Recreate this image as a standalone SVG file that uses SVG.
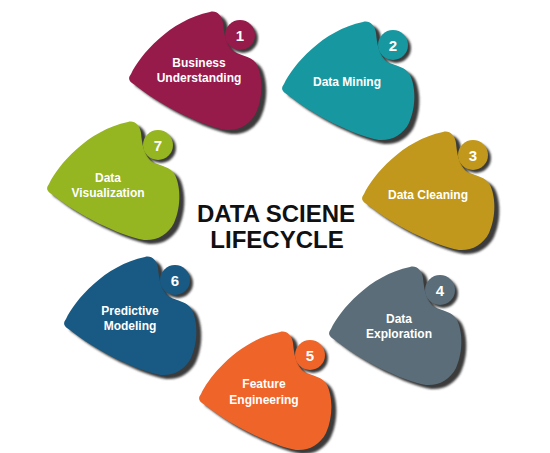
<svg xmlns="http://www.w3.org/2000/svg" xmlns:xlink="http://www.w3.org/1999/xlink" width="550" height="453" viewBox="0 0 550 453">
<defs>
<path id="blob" d="M -109 39 C -100 20, -70 -15, -30 -23 C -24 -25, -18 -20, -17 -12 C -16 0, -14 8, -8 15 C -2 21, 12 20, 17 30 C 22 40, 24 60, 16 78 C 10 90, -2 96, -14 95 C -40 90, -80 70, -105 50 C -112 46, -112 43, -109 39 Z"/>
<filter id="sh" x="-20%" y="-20%" width="140%" height="140%"><feGaussianBlur stdDeviation="1"/></filter>
</defs>
<style>
.shadow{fill:#3a3a3a;filter:url(#sh)}
.lbl{font-family:"Liberation Sans",Arial,sans-serif;font-weight:bold;font-size:12px;fill:#ffffff;text-anchor:middle}
.num{font-family:"Liberation Sans",Arial,sans-serif;font-weight:bold;font-size:15px;fill:#ffffff;text-anchor:middle}
.title{font-family:"Liberation Sans",Arial,sans-serif;font-weight:bold;font-size:24px;fill:#111111;text-anchor:middle}
</style>
<rect width="550" height="453" fill="#ffffff"/>

<g id="node1">
<use xlink:href="#blob" href="#blob" class="shadow" transform="translate(245,39)"/>
<use xlink:href="#blob" href="#blob" fill="#961a4a" transform="translate(240,35)"/>
<circle cx="243" cy="38" r="15" class="shadow"/>
<circle cx="240" cy="35" r="15" fill="#961a4a"/>
<text x="240" y="40.5" class="num">1</text>
<text class="lbl"><tspan x="199" y="67">Business</tspan><tspan x="199" y="82">Understanding</tspan></text>
</g>

<g id="node2">
<use xlink:href="#blob" href="#blob" class="shadow" transform="translate(398,49)"/>
<use xlink:href="#blob" href="#blob" fill="#17979f" transform="translate(393,45)"/>
<circle cx="396" cy="48" r="15" class="shadow"/>
<circle cx="393" cy="45" r="15" fill="#17979f"/>
<text x="393" y="50.5" class="num">2</text>
<text x="347" y="86" class="lbl">Data Mining</text>
</g>

<g id="node3">
<use xlink:href="#blob" href="#blob" class="shadow" transform="translate(478,159)"/>
<use xlink:href="#blob" href="#blob" fill="#c1981b" transform="translate(473,155)"/>
<circle cx="476" cy="158" r="15" class="shadow"/>
<circle cx="473" cy="155" r="15" fill="#c1981b"/>
<text x="473" y="160.5" class="num">3</text>
<text x="428" y="199" class="lbl">Data Cleaning</text>
</g>

<g id="node4">
<use xlink:href="#blob" href="#blob" class="shadow" transform="translate(445,294)"/>
<use xlink:href="#blob" href="#blob" fill="#5a6d79" transform="translate(440,290)"/>
<circle cx="443" cy="293" r="15" class="shadow"/>
<circle cx="440" cy="290" r="15" fill="#5a6d79"/>
<text x="440" y="295.5" class="num">4</text>
<text class="lbl"><tspan x="399" y="322.5">Data</tspan><tspan x="399" y="337.5">Exploration</tspan></text>
</g>

<g id="node5">
<use xlink:href="#blob" href="#blob" class="shadow" transform="translate(315,359)"/>
<use xlink:href="#blob" href="#blob" fill="#ee6429" transform="translate(310,355)"/>
<circle cx="313" cy="358" r="15" class="shadow"/>
<circle cx="310" cy="355" r="15" fill="#ee6429"/>
<text x="310" y="360.5" class="num">5</text>
<text class="lbl"><tspan x="264" y="387.5">Feature</tspan><tspan x="264" y="403.5">Engineering</tspan></text>
</g>

<g id="node6">
<use xlink:href="#blob" href="#blob" class="shadow" transform="translate(180,284)"/>
<use xlink:href="#blob" href="#blob" fill="#185a84" transform="translate(175,280)"/>
<circle cx="178" cy="283" r="15" class="shadow"/>
<circle cx="175" cy="280" r="15" fill="#185a84"/>
<text x="175" y="285.5" class="num">6</text>
<text class="lbl"><tspan x="130" y="315">Predictive</tspan><tspan x="130" y="330">Modeling</tspan></text>
</g>

<g id="node7">
<use xlink:href="#blob" href="#blob" class="shadow" transform="translate(163,149)"/>
<use xlink:href="#blob" href="#blob" fill="#95b521" transform="translate(158,145)"/>
<circle cx="161" cy="148" r="15" class="shadow"/>
<circle cx="158" cy="145" r="15" fill="#95b521"/>
<text x="158" y="150.5" class="num">7</text>
<text class="lbl"><tspan x="108" y="182">Data</tspan><tspan x="108" y="197">Visualization</tspan></text>
</g>

<g id="title">
<text class="title"><tspan x="276" y="222">DATA SCIENE</tspan><tspan x="277" y="248">LIFECYCLE</tspan></text>
</g>
</svg>
